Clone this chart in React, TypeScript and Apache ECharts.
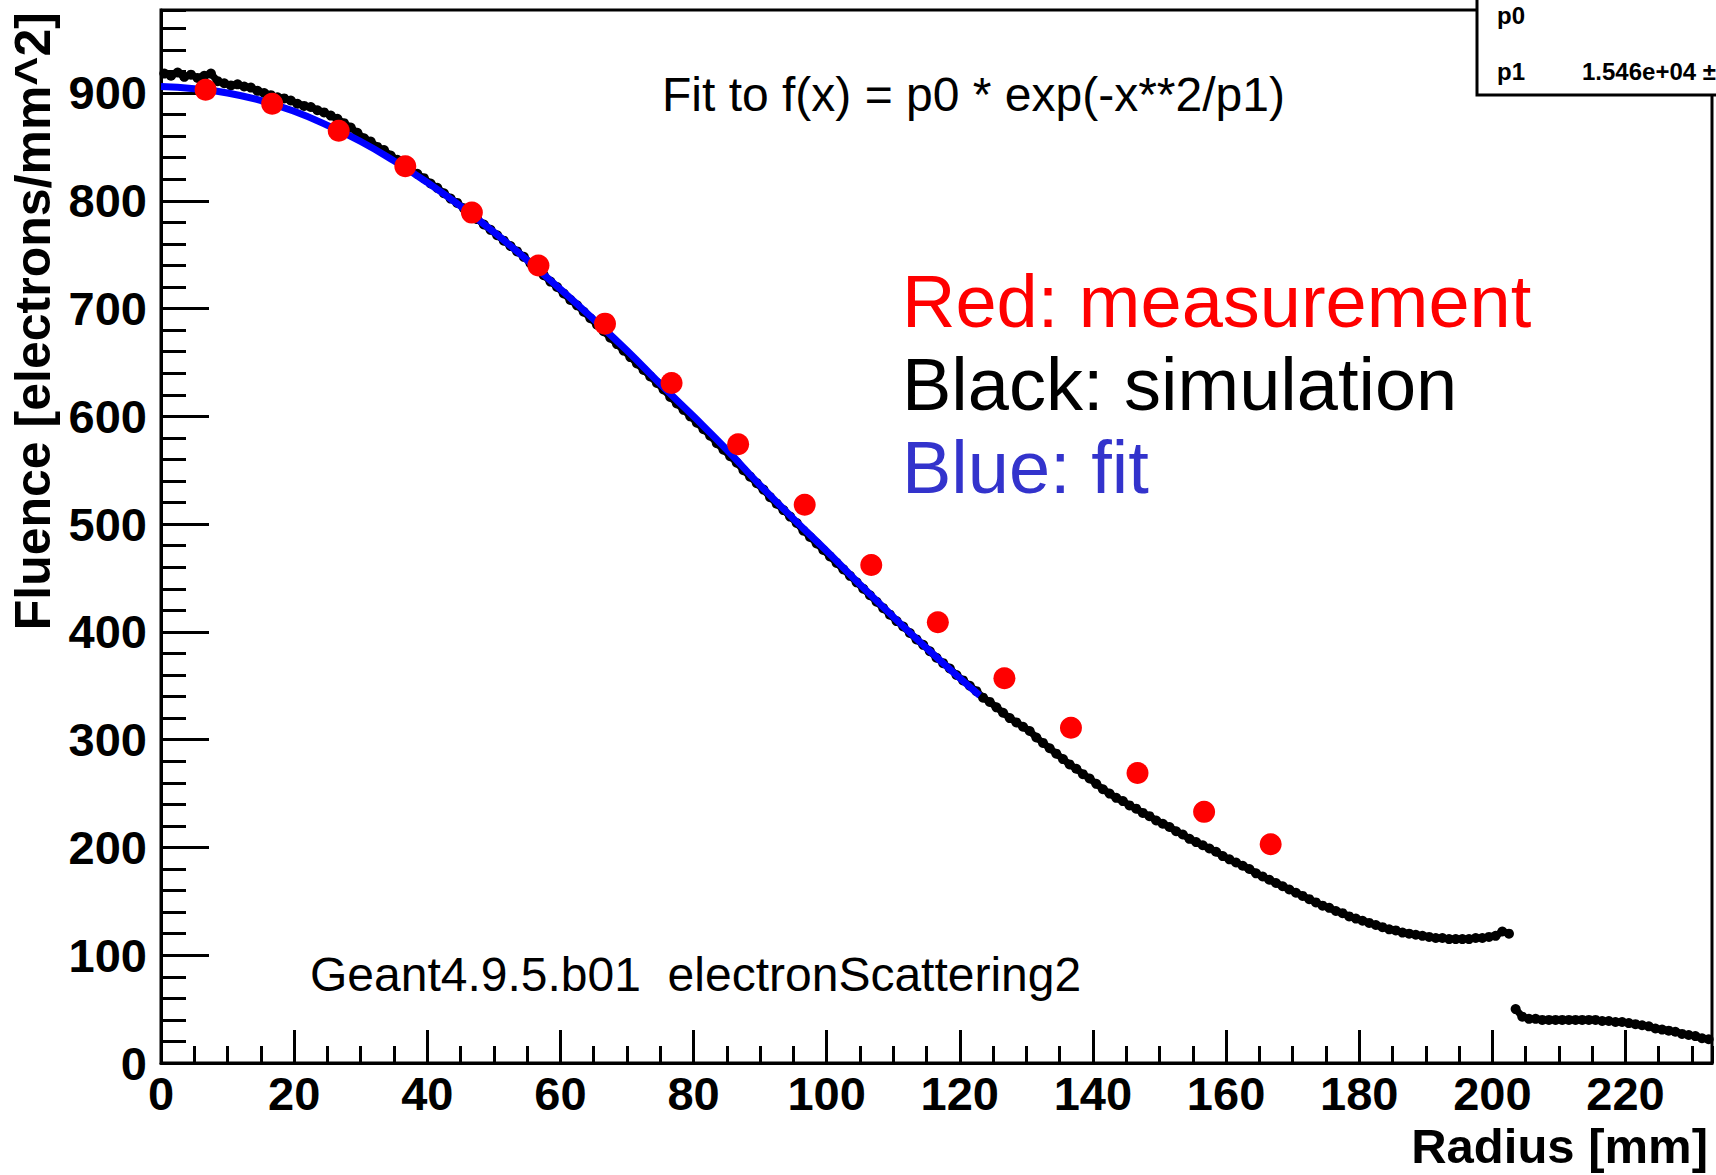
import React, { useEffect, useRef } from "react";
import * as echarts from "echarts";

const FONT = '"Liberation Sans", Arial, Helvetica, sans-serif';

// Simulation histogram (1 mm bins), part before the step at ~203 mm
const simStartA = 0.5;
const simValuesA = [
  918, 916, 919, 915, 917, 914, 916, 918, 911, 909,
  907, 908, 906, 905, 902, 900, 898, 896, 895, 893,
  890, 888, 887, 884, 882, 879, 876, 872, 868, 863,
  858, 855, 850, 847, 842, 838, 834, 829, 825, 821,
  816, 812, 807, 802, 798, 793, 788, 783, 778, 773,
  768, 763, 758, 753, 748, 742, 737, 731, 725, 720,
  714, 708, 703, 697, 691, 685, 679, 673, 667, 661,
  655, 649, 643, 637, 631, 625, 618, 612, 606, 600,
  594, 588, 582, 575, 569, 563, 557, 550, 544, 538,
  532, 525, 519, 513, 507, 501, 494, 488, 482, 476,
  470, 464, 458, 452, 446, 440, 434, 428, 422, 416,
  410, 405, 399, 393, 388, 382, 376, 371, 366, 360,
  355, 350, 345, 339, 335, 330, 325, 320, 316, 312,
  308, 302, 297, 292, 287, 282, 277, 273, 268, 264,
  259, 254, 250, 246, 243, 239, 236, 232, 229, 225,
  222, 219, 215, 212, 208, 205, 202, 199, 196, 192,
  189, 186, 183, 180, 176, 173, 170, 167, 164, 161,
  158, 155, 152, 149, 146, 144, 141, 139, 136, 134,
  132, 130, 128, 126, 124, 123, 121, 120, 119, 118,
  117, 116, 116, 115, 115, 115, 115, 116, 116, 117,
  118, 122, 120,
];
// Simulation histogram after the step
const simStartB = 203.5;
const simValuesB = [
  50, 43, 41, 41, 40, 40, 40, 40, 40, 40,
  40, 40, 40, 39, 39, 38, 38, 37, 36, 35,
  34, 32, 31, 30, 29, 27, 26, 25, 23, 22,
];
const simBinWidth = 1;

// Fit curve (blue)
const fitX = [0, 5, 10, 15, 20, 25, 30, 35, 40, 45, 50, 55, 60, 65, 70, 75, 80, 85, 90, 95, 100, 105, 110, 115, 120, 123];
const fitY = [906, 904, 900, 893, 883, 870, 855, 837, 817, 795, 771, 745, 718, 690, 661, 630, 600, 569, 536, 505, 475, 444, 414, 385, 357, 341];

// Measurement (red)
const measX = [6.7, 16.7, 26.7, 36.7, 46.7, 56.7, 66.7, 76.7, 86.7, 96.7, 106.7, 116.7, 126.7, 136.7, 146.7, 156.7, 166.7];
const measY = [903, 890, 865, 832, 789, 740, 686, 631, 574, 518, 462, 409, 357, 311, 269, 233, 203];

const X_MIN = 0;
const X_MAX = 233;
const Y_MIN = 0;
const Y_MAX = 977;

const xTitle = "Radius [mm]";
const yTitle = "Fluence [electrons/mm^2]";
const fitText = "Fit to f(x) = p0 * exp(-x**2/p1)";
const versionText = "Geant4.9.5.b01  electronScattering2";
const legendLines = [
  { text: "Red: measurement", color: "#ff0000" },
  { text: "Black: simulation", color: "#000000" },
  { text: "Blue: fit", color: "#3333cc" },
];
const statRows = [
  { name: "p0", value: "" },
  { name: "p1", value: "1.546e+04 \u00b1" },
];

export default function App() {
  const ref = useRef<HTMLDivElement>(null);

  useEffect(() => {
    if (!ref.current) return;
    const chart = echarts.init(ref.current, undefined, { renderer: "svg" });

    const simA = simValuesA.map((v, i) => [simStartA + i * simBinWidth, v]);
    const simB = simValuesB.map((v, i) => [simStartB + i * simBinWidth, v]);
    const fit = fitX.map((x, i) => [x, fitY[i]]);
    const meas = measX.map((x, i) => [x, measY[i]]);

    const labelStyle = {
      fontFamily: FONT,
      fontWeight: "bold" as const,
      fontSize: 47,
      color: "#000",
    };

    const simSeries = (data: number[][]) => ({
      type: "line",
      data,
      xAxisIndex: 0,
      yAxisIndex: 0,
      symbol: "circle",
      symbolSize: 10,
      showSymbol: true,
      lineStyle: { color: "#000", width: 7 },
      itemStyle: { color: "#000", opacity: 1 },
      z: 3,
      silent: true,
    });

    const legendTexts = legendLines.map((l, i) => ({
      type: "text",
      x: 902,
      y: 301 + i * 83,
      z: 50,
      style: {
        text: l.text,
        fill: l.color,
        fontFamily: FONT,
        fontSize: 74,
        align: "left",
        verticalAlign: "middle",
      },
    }));

    const statTexts: any[] = [];
    statRows.forEach((r, i) => {
      statTexts.push({
        type: "text",
        x: 1497,
        y: 15 + i * 56,
        z: 101,
        style: {
          text: r.name,
          fill: "#000",
          fontFamily: FONT,
          fontWeight: "bold",
          fontSize: 24,
          align: "left",
          verticalAlign: "middle",
        },
      });
      if (r.value) {
        statTexts.push({
          type: "text",
          x: 1582,
          y: 15 + i * 56,
          z: 101,
          style: {
            text: r.value,
            fill: "#000",
            fontFamily: FONT,
            fontWeight: "bold",
            fontSize: 24,
            align: "left",
            verticalAlign: "middle",
          },
        });
      }
    });

    chart.setOption({
      animation: false,
      backgroundColor: "#ffffff",
      grid: {
        left: 161,
        right: 4,
        top: 10,
        bottom: 112,
        show: true,
        borderColor: "#000",
        borderWidth: 3,
        backgroundColor: "transparent",
      },
      xAxis: [
        {
          type: "value",
          min: X_MIN,
          max: X_MAX,
          interval: 20,
          position: "bottom",
          axisLine: { show: true, onZero: false, lineStyle: { color: "#000", width: 3 } },
          axisTick: { show: true, inside: true, length: 33, lineStyle: { color: "#000", width: 3 } },
          axisLabel: { ...labelStyle, margin: 7, showMaxLabel: false },
          splitLine: { show: false },
        },
        {
          type: "value",
          min: X_MIN,
          max: X_MAX,
          interval: 5,
          position: "bottom",
          axisLine: { show: false, onZero: false },
          axisTick: { show: true, inside: true, length: 17, lineStyle: { color: "#000", width: 3 } },
          axisLabel: { show: false },
          splitLine: { show: false },
        },
      ],
      yAxis: [
        {
          type: "value",
          min: Y_MIN,
          max: Y_MAX,
          interval: 100,
          position: "left",
          axisLine: { show: true, onZero: false, lineStyle: { color: "#000", width: 3 } },
          axisTick: { show: true, inside: true, length: 48, lineStyle: { color: "#000", width: 3 } },
          axisLabel: { ...labelStyle, margin: 14, showMaxLabel: false },
          splitLine: { show: false },
        },
        {
          type: "value",
          min: Y_MIN,
          max: Y_MAX,
          interval: 20,
          position: "left",
          axisLine: { show: false, onZero: false },
          axisTick: { show: true, inside: true, length: 25, lineStyle: { color: "#000", width: 3 } },
          axisLabel: { show: false },
          splitLine: { show: false },
        },
      ],
      series: [
        simSeries(simA),
        simSeries(simB),
        {
          type: "line",
          data: fit,
          xAxisIndex: 0,
          yAxisIndex: 0,
          smooth: true,
          showSymbol: false,
          lineStyle: { color: "#0000ff", width: 7 },
          z: 4,
          silent: true,
        },
        {
          type: "scatter",
          data: meas,
          xAxisIndex: 0,
          yAxisIndex: 0,
          symbol: "circle",
          symbolSize: 22,
          itemStyle: { color: "#ff0000", opacity: 1 },
          z: 5,
          silent: true,
        },
      ],
      graphic: [
        {
          type: "text",
          x: 662,
          y: 94,
          z: 50,
          style: {
            text: fitText,
            fill: "#000",
            fontFamily: FONT,
            fontSize: 48,
            align: "left",
            verticalAlign: "middle",
          },
        },
        {
          type: "text",
          x: 310,
          y: 974,
          z: 50,
          style: {
            text: versionText,
            fill: "#000",
            fontFamily: FONT,
            fontSize: 48,
            align: "left",
            verticalAlign: "middle",
            whiteSpace: "pre",
          },
        },
        ...legendTexts,
        {
          type: "text",
          x: 1708,
          y: 1146,
          z: 50,
          style: {
            text: xTitle,
            fill: "#000",
            fontFamily: FONT,
            fontWeight: "bold",
            fontSize: 49,
            align: "right",
            verticalAlign: "middle",
          },
        },
        {
          type: "text",
          x: 33,
          y: 12,
          rotation: Math.PI / 2,
          z: 50,
          style: {
            text: yTitle,
            fill: "#000",
            fontFamily: FONT,
            fontWeight: "bold",
            fontSize: 50,
            align: "right",
            verticalAlign: "middle",
          },
        },
        {
          type: "rect",
          z: 100,
          shape: { x: 1477, y: -3, width: 260, height: 98 },
          style: { fill: "#ffffff", stroke: "#000", lineWidth: 3 },
        },
        ...statTexts,
      ],
    });

    return () => chart.dispose();
  }, []);

  return (
    <div
      ref={ref}
      style={{ position: "fixed", left: 0, top: 0, width: 1716, height: 1175, background: "#fff" }}
    />
  );
}
